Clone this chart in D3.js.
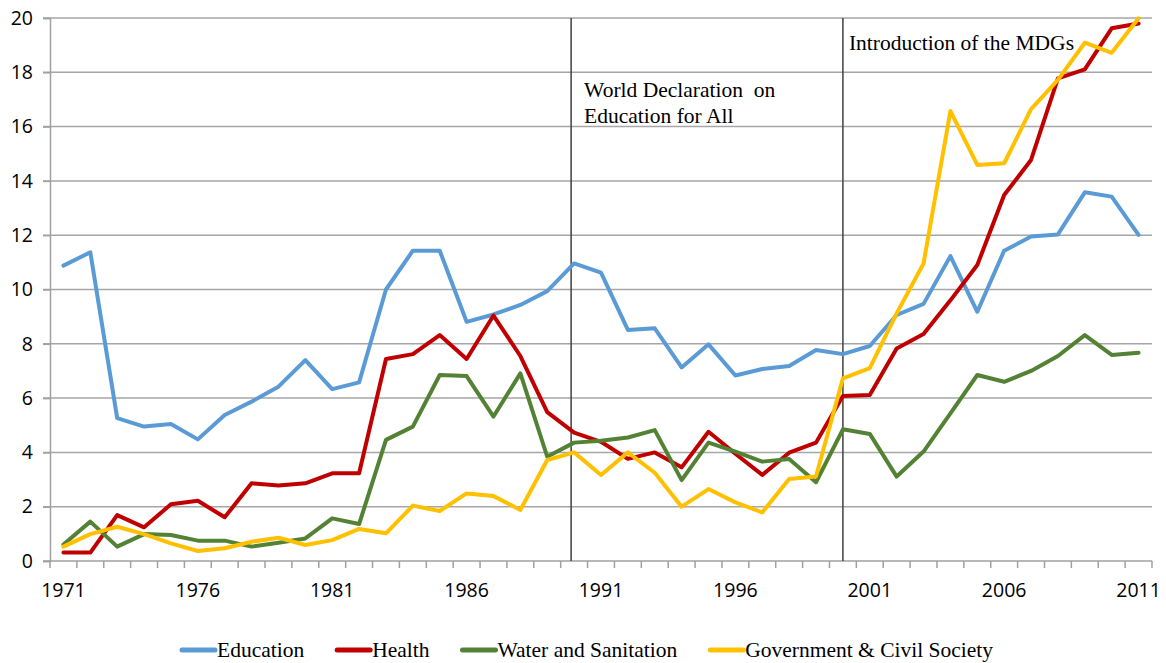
<!DOCTYPE html>
<html>
<head>
<meta charset="utf-8">
<script src="https://cdn.jsdelivr.net/npm/d3@7"></script>
<style>
  html, body { margin: 0; padding: 0; background: #fff; }
  svg { display: block; }
</style>
</head>
<body>
<svg id="chart" width="1166" height="663"></svg>
<script>
const years = d3.range(1971, 2012);
const xTickLabels = [1971, 1976, 1981, 1986, 1991, 1996, 2001, 2006, 2011];
const yTicks = [0, 2, 4, 6, 8, 10, 12, 14, 16, 18, 20];

const education = [10.88, 11.37, 5.26, 4.95, 5.05, 4.48, 5.38, 5.87, 6.42, 7.40,
  6.33, 6.58, 10.0, 11.43, 11.43, 8.81, 9.08, 9.43, 9.94, 10.96,
  10.62, 8.51, 8.57, 7.13, 7.98, 6.83, 7.07, 7.18, 7.77, 7.62,
  7.92, 9.06, 9.47, 11.23, 9.18, 11.43, 11.95, 12.03, 13.58, 13.42, 12.01];
const health = [0.31, 0.31, 1.69, 1.24, 2.09, 2.22, 1.61, 2.86, 2.78, 2.86,
  3.23, 3.23, 7.44, 7.62, 8.32, 7.44, 9.04, 7.55, 5.48, 4.73,
  4.39, 3.76, 4.00, 3.45, 4.76, 3.95, 3.17, 3.99, 4.36, 6.08,
  6.11, 7.83, 8.36, 9.6, 10.9, 13.48, 14.77, 17.78, 18.11, 19.62, 19.80];
const water = [0.61, 1.45, 0.53, 0.99, 0.96, 0.75, 0.75, 0.53, 0.67, 0.83,
  1.57, 1.36, 4.46, 4.95, 6.85, 6.81, 5.32, 6.91, 3.84, 4.36,
  4.43, 4.55, 4.82, 2.98, 4.36, 4.03, 3.66, 3.76, 2.90, 4.85,
  4.68, 3.11, 4.03, 5.44, 6.85, 6.60, 7.00, 7.55, 8.32, 7.59, 7.67];
const government = [0.53, 0.99, 1.26, 0.99, 0.65, 0.37, 0.47, 0.71, 0.86, 0.59,
  0.77, 1.18, 1.02, 2.04, 1.84, 2.49, 2.39, 1.88, 3.72, 4.00,
  3.17, 4.00, 3.25, 2.00, 2.65, 2.16, 1.79, 3.02, 3.11, 6.73,
  7.10, 9.12, 10.96, 16.57, 14.59, 14.65, 16.64, 17.72, 19.09, 18.72, 19.99];

const seriesNames = ["Education", "Health", "Water and Sanitation", "Government & Civil Society"];
const seriesColors = ["#5B9BD5", "#C00000", "#548235", "#FFC000"];
const seriesValues = [education, health, water, government];

const annotationYears = [1990, 2000];
const annotationTexts = [["World Declaration  on", "Education for All"], ["Introduction of the MDGs"]];

const svg = d3.select("#chart");
const pLeft = 50, pRight = 1152, pTop = 18, pBottom = 561;

const x = d3.scaleBand().domain(years).range([pLeft, pRight]).padding(0);
const y = d3.scaleLinear().domain([0, 20]).range([pBottom, pTop]);
const cx = yr => x(yr) + x.bandwidth() / 2;

const sansFont = "'Open Sans', 'Liberation Sans', sans-serif";
const serifFont = "'Liberation Serif', 'Times New Roman', serif";
const serifSize = 21.5;
const sansSize = 19.5;

// gridlines
svg.append("g").selectAll("line").data(yTicks.filter(d => d > 0)).join("line")
  .attr("x1", pLeft - 7).attr("x2", pRight)
  .attr("y1", d => y(d)).attr("y2", d => y(d))
  .attr("stroke", "#a6a6a6").attr("stroke-width", 1.5);

// y axis
const yAxis = svg.append("g").attr("transform", `translate(${pLeft},0)`)
  .call(d3.axisLeft(y).tickValues(yTicks).tickSize(7).tickPadding(10));
yAxis.select(".domain").attr("stroke", "#a0a0a0").attr("stroke-width", 1.5);
yAxis.selectAll(".tick line").attr("stroke", "#a0a0a0").attr("stroke-width", 1.5);
yAxis.selectAll("text").attr("font-family", sansFont).attr("font-size", sansSize).attr("fill", "#000");

// x axis line and boundary ticks
svg.append("line").attr("x1", pLeft - 7).attr("x2", pRight).attr("y1", pBottom).attr("y2", pBottom)
  .attr("stroke", "#a0a0a0").attr("stroke-width", 1.5);
const boundaries = years.map(yr => x(yr)).concat([x(years[years.length - 1]) + x.bandwidth()]);
svg.append("g").selectAll("line").data(boundaries).join("line")
  .attr("x1", d => d).attr("x2", d => d).attr("y1", pBottom).attr("y2", pBottom + 7)
  .attr("stroke", "#a0a0a0").attr("stroke-width", 1.5);
svg.append("g").selectAll("text").data(xTickLabels).join("text")
  .attr("x", d => cx(d)).attr("y", 597)
  .attr("text-anchor", "middle")
  .attr("font-family", sansFont).attr("font-size", sansSize).attr("fill", "#000")
  .text(d => d);

// annotation lines
annotationYears.forEach((yr, i) => {
  const xx = cx(yr) - (i === 0 ? 3 : 0);
  svg.append("line").attr("x1", xx).attr("x2", xx).attr("y1", pTop).attr("y2", pBottom)
    .attr("stroke", "#404040").attr("stroke-width", 1.5);
});
const t1 = svg.append("text").attr("font-family", serifFont).attr("font-size", serifSize).attr("fill", "#000")
  .style("white-space", "pre");
annotationTexts[0].forEach((s, j) => {
  t1.append("tspan").attr("x", cx(annotationYears[0]) + 10).attr("y", 97 + j * 26).text(s);
});
svg.append("text").attr("font-family", serifFont).attr("font-size", serifSize).attr("fill", "#000")
  .attr("x", cx(annotationYears[1]) + 6).attr("y", 50).text(annotationTexts[1][0]);

// series lines
const line = d3.line().x((d, i) => cx(years[i])).y(d => y(d));
seriesValues.forEach((vals, k) => {
  svg.append("path").datum(vals)
    .attr("d", line)
    .attr("fill", "none")
    .attr("stroke", seriesColors[k])
    .attr("stroke-width", 4)
    .attr("stroke-linejoin", "round")
    .attr("stroke-linecap", "round");
});

// legend
const legend = svg.append("g");
let lx = 182;
const ly = 650;
seriesNames.forEach((name, k) => {
  legend.append("line").attr("x1", lx).attr("x2", lx + 33).attr("y1", ly).attr("y2", ly)
    .attr("stroke", seriesColors[k]).attr("stroke-width", 5).attr("stroke-linecap", "round");
  const t = legend.append("text").attr("x", lx + 35).attr("y", 657)
    .attr("font-family", serifFont).attr("font-size", serifSize).attr("fill", "#000").text(name);
  const w = t.node().getComputedTextLength();
  lx = lx + 35 + w + 33;
});
</script>
</body>
</html>
